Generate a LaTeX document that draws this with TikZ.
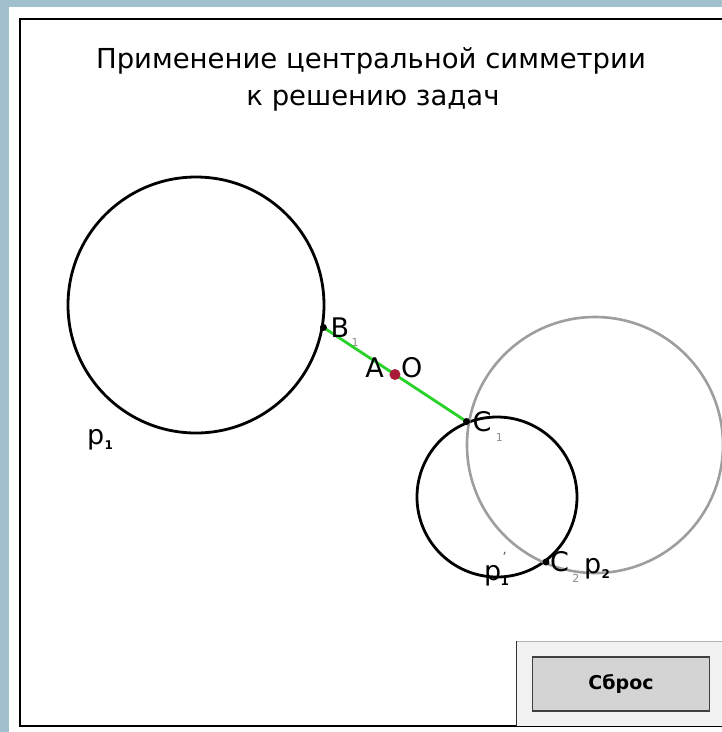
\documentclass[tikz,border=0pt]{standalone}
\usepackage{fontspec}
\setmainfont{DejaVu Sans}
\usetikzlibrary{positioning, calc}
\definecolor{bgblue}{RGB}{160,192,206}
\definecolor{seggreen}{RGB}{40,210,40}
\definecolor{dotred}{RGB}{170,25,55}
\tikzset{
  circ/.style={circle, draw=black, line width=2.8pt, inner sep=0pt},
  gcirc/.style={circle, draw=black!38, line width=2.6pt, inner sep=0pt},
  pt/.style={circle, fill=black, minimum size=7pt, inner sep=0pt},
  rdot/.style={circle, fill=dotred, minimum size=11pt, inner sep=0pt},
  title/.style={font=\fontsize{27.5}{27.5}\selectfont, inner sep=0pt, anchor=base},
  btn/.style={rectangle, draw=black!75, line width=1.2pt, fill=black!17,
              minimum width=177pt, minimum height=54pt,
              font=\bfseries\fontsize{19}{19}\selectfont},
}
\begin{document}
\begin{tikzpicture}[x=1pt, y=-1pt,
    lbl/.style={font=\fontsize{27}{27}\selectfont, inner sep=0pt},
    sub/.style={font=\fontsize{11}{11}\selectfont, text=black!45, inner sep=0pt},
    bsub/.style={font=\bfseries\fontsize{12}{12}\selectfont, inner sep=0pt},
  ]
  \useasboundingbox (0,0) rectangle (722,732);
  \fill[bgblue] (0,0) rectangle (722,732);
  \fill[white] (9,7) rectangle (722,732);
  \draw[line width=2.2pt] (20,19) rectangle (740,726);

  \node[title] (t1) at (371,68) {Применение центральной симметрии};
  \node[title] (t2) at (373,105) {к решению задач};

  % circles
  \node[circ, minimum size=256pt] (p1) at (196,305) {};
  \node[circ, minimum size=160pt] (p1s) at (497,497) {};
  \node[gcirc, minimum size=256pt] (p2) at (595,445) {};

  \coordinate (b1) at (p1.-10);
  \coordinate (c1) at (p1s.112);
  \coordinate (c2) at (p1s.-53);
  \draw[seggreen, line width=2.8pt] (b1) -- (c1);
  \node[pt] (nb1) at (b1) {};
  \node[pt] (nc1) at (c1) {};
  \node[pt] (nc2) at (c2) {};
  \node[rdot] (o) at ($(b1)!0.5!(c1)$) {};

  % labels
  \node[lbl, anchor=west] (lb) at ([xshift=7pt]b1) {B};
  \node[sub, anchor=north west] at ([shift={(2pt,-1pt)}]lb.south east) {1};
  \node[lbl, anchor=east] (la) at ([shift={(-11pt,7pt)}]o.center) {A};
  \node[lbl, anchor=west] (lo) at ([shift={(6pt,7pt)}]o.center) {O};
  \node[lbl, anchor=west] (lc1) at ([xshift=6pt]c1) {C};
  \node[sub, anchor=north west] at ([shift={(4pt,-1pt)}]lc1.south east) {1};
  \node[lbl, anchor=west] (lc2) at ([xshift=4pt]c2) {C};
  \node[sub, anchor=north west] (sc2) at ([shift={(3pt,-2pt)}]lc2.south east) {2};
  \node[lbl, anchor=base west] (lp2) at (584,573) {p};
  \node[bsub, anchor=base west] at ([xshift=0pt, yshift=-5pt]lp2.base east) {2};
  \node[lbl, anchor=base west] (lp1s) at (484,580) {p};
  \node[bsub, anchor=base west] at ([xshift=-1pt, yshift=-5pt]lp1s.base east) {1};
  \node[font=\fontsize{14}{14}\selectfont, text=black!60, inner sep=0pt, anchor=south]
    at ([xshift=3pt, yshift=2pt]lp1s.north east) {'};
  \node[lbl, anchor=base west] (lp1) at (87,444) {p};
  \node[bsub, anchor=base west] at ([xshift=0pt, yshift=-5pt]lp1.base east) {1};

  % reset panel
  \fill[black!5] (516,641) rectangle (722,726);
  \draw[black!30] (516,641) -- (722,641);
  \draw[black!80, line width=1pt] (516,641) -- (516,726);
  \node[btn] (reset) at (621,684) {Сброс};
\end{tikzpicture}
\end{document}
